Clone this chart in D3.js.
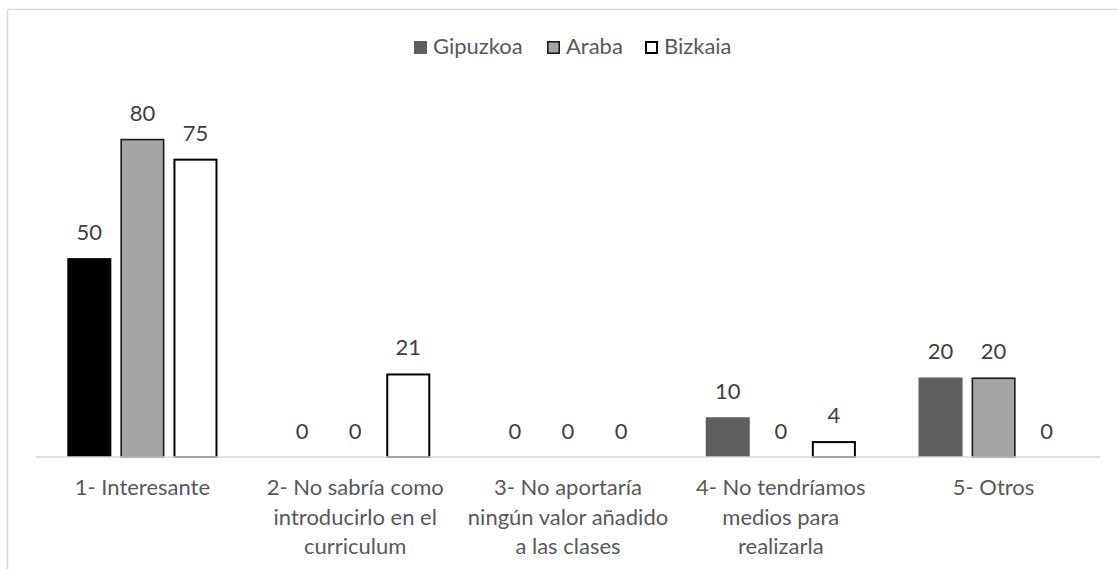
<!DOCTYPE html>
<html>
<head>
<meta charset="utf-8">
<script src="https://cdn.jsdelivr.net/npm/d3@7"></script>
<style>
  html, body { margin: 0; padding: 0; background: #fff; }
  svg { display: block; font-family: Lato, "Open Sans", sans-serif; }
</style>
</head>
<body>
<svg id="chart" width="1118" height="569"></svg>
<script>
// Reasons given, grouped by province
const categories = [
  "1- Interesante",
  "2- No sabría como\nintroducirlo en el\ncurriculum",
  "3- No aportaría\nningún valor añadido\na las clases",
  "4- No tendríamos\nmedios para\nrealizarla",
  "5- Otros"
];
const seriesNames = ["Gipuzkoa", "Araba", "Bizkaia"];
const gipuzkoa = [50, 0, 0, 10, 20];
const araba = [80, 0, 0, 0, 20];
const bizkaia = [75, 21, 0, 4, 0];

const seriesValues = [gipuzkoa, araba, bizkaia];

const svg = d3.select("#chart");
const W = 1118, H = 569;
const FS = 22;

// chart frame (left and top edges are the visible ones)
svg.append("line").attr("x1", 7.5).attr("x2", 7.5).attr("y1", 9.5).attr("y2", H)
  .attr("stroke", "#d9d9d9").attr("stroke-width", 1.5);
svg.append("line").attr("x1", 7.5).attr("x2", W).attr("y1", 9.5).attr("y2", 9.5)
  .attr("stroke", "#d9d9d9").attr("stroke-width", 1.5);

const x0 = d3.scaleBand().domain(d3.range(categories.length)).range([36, 1100]).padding(0);
const x1 = d3.scaleBand().domain(seriesNames).range([0, x0.bandwidth()])
  .paddingInner(0.17).paddingOuter(0.59);
const y = d3.scaleLinear().domain([0, 90]).range([457, 99]);

const styles = {
  Gipuzkoa: { fill: "#5f5f5f", stroke: "none", sw: 0 },
  Araba:    { fill: "#a5a5a5", stroke: "#1a1a1a", sw: 1.6 },
  Bizkaia:  { fill: "#ffffff", stroke: "#000000", sw: 2 }
};

const bars = [];
seriesNames.forEach((s, si) => {
  seriesValues[si].forEach((v, ci) => bars.push({ s, ci, v }));
});

const g = svg.append("g");
g.selectAll("rect.bar").data(bars.filter(d => d.v > 0)).join("rect")
  .attr("class", "bar")
  .attr("x", d => x0(d.ci) + x1(d.s) + styles[d.s].sw / 2)
  .attr("width", d => x1.bandwidth() - styles[d.s].sw)
  .attr("y", d => y(d.v) + styles[d.s].sw / 2)
  .attr("height", d => y(0) - y(d.v) - styles[d.s].sw / 2)
  .attr("fill", d => (d.s === "Gipuzkoa" && d.ci === 0) ? "#000000" : styles[d.s].fill)
  .attr("stroke", d => styles[d.s].stroke)
  .attr("stroke-width", d => styles[d.s].sw);

// value labels
g.selectAll("text.val").data(bars).join("text")
  .attr("class", "val")
  .attr("x", d => x0(d.ci) + x1(d.s) + x1.bandwidth() / 2)
  .attr("y", d => y(d.v) - 18)
  .attr("text-anchor", "middle")
  .attr("font-size", FS)
  .attr("fill", "#404040")
  .text(d => d.v);

// category axis
svg.append("line").attr("x1", 36).attr("x2", 1100).attr("y1", 457).attr("y2", 457)
  .attr("stroke", "#d9d9d9").attr("stroke-width", 1.5);

const cat = svg.selectAll("text.cat").data(categories).join("text")
  .attr("class", "cat")
  .attr("text-anchor", "middle")
  .attr("font-size", FS)
  .attr("fill", "#595959");
cat.each(function (d, i) {
  const t = d3.select(this);
  d.split("\n").forEach((line, li) => {
    t.append("tspan")
      .attr("x", x0(i) + x0.bandwidth() / 2)
      .attr("y", 495 + li * 29.5)
      .text(line);
  });
});

// legend
const legendItems = [
  { name: "Gipuzkoa", x: 414 },
  { name: "Araba", x: 547 },
  { name: "Bizkaia", x: 645 }
];
const lg = svg.append("g").selectAll("g").data(legendItems).join("g")
  .attr("transform", d => `translate(${d.x},41)`);
lg.append("rect")
  .attr("x", d => styles[d.name].sw / 2)
  .attr("y", d => styles[d.name].sw / 2)
  .attr("width", d => 13 - styles[d.name].sw)
  .attr("height", d => 13 - styles[d.name].sw)
  .attr("fill", d => styles[d.name].fill)
  .attr("stroke", d => styles[d.name].stroke)
  .attr("stroke-width", d => styles[d.name].sw);
lg.append("text")
  .attr("x", 19)
  .attr("y", 13)
  .attr("font-size", FS)
  .attr("fill", "#595959")
  .text(d => d.name);
</script>
</body>
</html>
